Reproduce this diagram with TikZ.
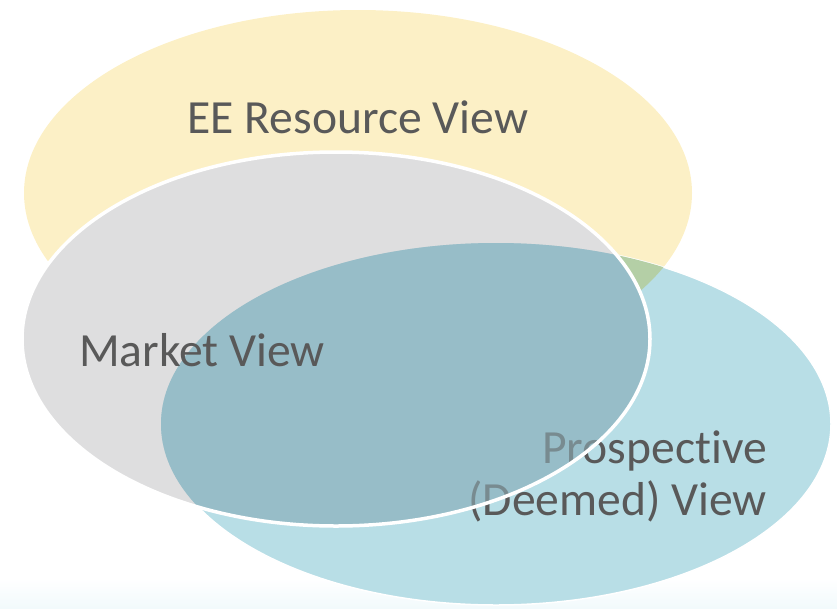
\documentclass[tikz,border=0pt]{standalone}
\usepackage{fontspec}
\setmainfont{Carlito}[Ligatures=NoCommon]
\usepackage{tikz}

\definecolor{eeyellow}{HTML}{FCF0C6}
\definecolor{marketgray}{HTML}{DEDEDF}
\definecolor{deemedblue}{HTML}{B8DEE6}
\definecolor{overlapteal}{HTML}{97BDC8}
\definecolor{overlapgreen}{HTML}{B4CFA6}
\definecolor{viewtext}{HTML}{595959}
\definecolor{floorblue}{HTML}{F2FAFC}

\begin{document}
\begin{tikzpicture}
[x=1pt, y=-1pt,
resource/.style={fill=eeyellow},
market/.style={fill=marketgray},
deemed/.style={fill=deemedblue, draw=white, line width = 1.5pt},
market rim/.style={draw=white, line width = 3.5pt},
view label/.style={text=viewtext, inner sep=0pt, font=\fontsize{47.6}{52}\selectfont}]
\useasboundingbox (0,0) rectangle (837,608);
\shade[top color=white, bottom color=floorblue] (0,578) rectangle (837,608);
\fill[resource] (358,193) ellipse [x radius=334, y radius=183];
\path[deemed] (496,424) ellipse [x radius=335, y radius=181];
\begin{scope}
\clip (496,424) ellipse [x radius=335, y radius=181];
\fill[overlapgreen] (358,193) ellipse [x radius=334, y radius=183];
\end{scope}
\fill[market] (336,339) ellipse [x radius=314, y radius=187];
\begin{scope}
\clip (336,339) ellipse [x radius=314, y radius=187];
\fill[overlapteal] (496,424) ellipse [x radius=335, y radius=181];
\end{scope}
\node[view label, anchor=base east] (prospective) at (767,463) {Prospective};
\node[view label, anchor=base east] (deemedview) at (767,515) {(Deemed) View};
\begin{scope}
\clip (336,339) ellipse [x radius=314, y radius=187];
\fill[overlapteal, opacity=0.5] (496,424) ellipse [x radius=335, y radius=181];
\end{scope}
\draw[market rim] (336,339) ellipse [x radius=314, y radius=187];
\node[view label, anchor=base] (eeresource) at (358,133) {EE Resource View};
\node[view label, anchor=base west] (marketview) at (79,366) {Market View};
\end{tikzpicture}
\end{document}
